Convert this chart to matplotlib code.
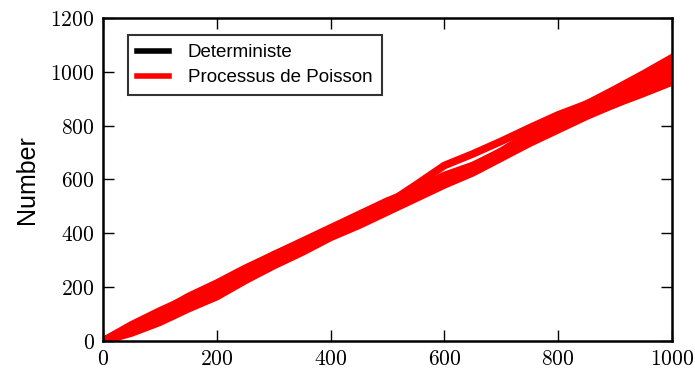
import numpy as np
import matplotlib
matplotlib.use("Agg")
import matplotlib.pyplot as plt

plt.rcParams['mathtext.fontset'] = 'cm'

# temps (grille commune des trajectoires)
t = np.arange(0, 1001, 50)

# trajectoire deterministe
determ = [0, 1000]
determ_t = [0, 1000]

# trajectoires des processus de Poisson
p1 = [0, 45, 100, 140, 190, 245, 300, 350, 400, 455, 510, 580, 652, 695, 742, 792, 840, 880, 935, 992, 1052]
p2 = [0, 60, 112, 160, 210, 262, 320, 370, 420, 470, 520, 562, 615, 652, 702, 765, 828, 870, 915, 965, 1025]
p3 = [0, 40, 85, 135, 180, 235, 290, 340, 390, 440, 490, 545, 600, 645, 695, 750, 810, 860, 905, 950, 1000]
p4 = [0, 30, 70, 120, 165, 225, 280, 330, 385, 430, 480, 530, 580, 625, 680, 735, 785, 835, 880, 930, 980]
p5 = [0, 50, 95, 150, 200, 245, 295, 345, 390, 440, 495, 540, 585, 640, 690, 740, 795, 840, 880, 920, 962]
p6 = [0, 55, 105, 165, 215, 270, 320, 365, 415, 465, 510, 558, 608, 650, 705, 770, 832, 880, 925, 975, 1035]
poisson = [p1, p2, p3, p4, p5, p6]

xticks = [0, 200, 400, 600, 800, 1000]
yticks = [0, 200, 400, 600, 800, 1000, 1200]

fig = plt.figure(figsize=(6.95, 3.72), dpi=100)
ax = fig.add_axes([0.148, 0.083, 0.819, 0.869])

ax.plot(determ_t, determ, color='black', lw=4, label='Deterministe')
for i, p in enumerate(poisson):
    ax.plot(t, p, color='red', lw=5.5, solid_joinstyle='round',
            label='Processus de Poisson' if i == 0 else None)

ax.set_xlim(0, 1000)
ax.set_ylim(0, 1200)
ax.set_xticks(xticks)
ax.set_yticks(yticks)
ax.set_xticklabels([r'$%d$' % v for v in xticks], fontsize=15.5)
ax.set_yticklabels([r'$%d$' % v for v in yticks], fontsize=15.5)
ax.tick_params(direction='in', length=8, width=1, top=True, right=True, pad=6)
for s in ax.spines.values():
    s.set_linewidth(1.8)

ax.set_ylabel('Number', fontsize=18, family='Liberation Sans', labelpad=8)

leg = ax.legend(loc='upper left', bbox_to_anchor=(0.044, 0.947), borderaxespad=0,
                fancybox=False, prop={'family': 'Liberation Sans', 'size': 13.5},
                handlelength=1.7, handletextpad=1.0, borderpad=0.5, labelspacing=0.4)
for h in leg.get_lines():
    h.set_linewidth(4)
leg.get_frame().set_edgecolor('black')
leg.get_frame().set_linewidth(1.5)

fig.savefig('out.png', dpi=100)
